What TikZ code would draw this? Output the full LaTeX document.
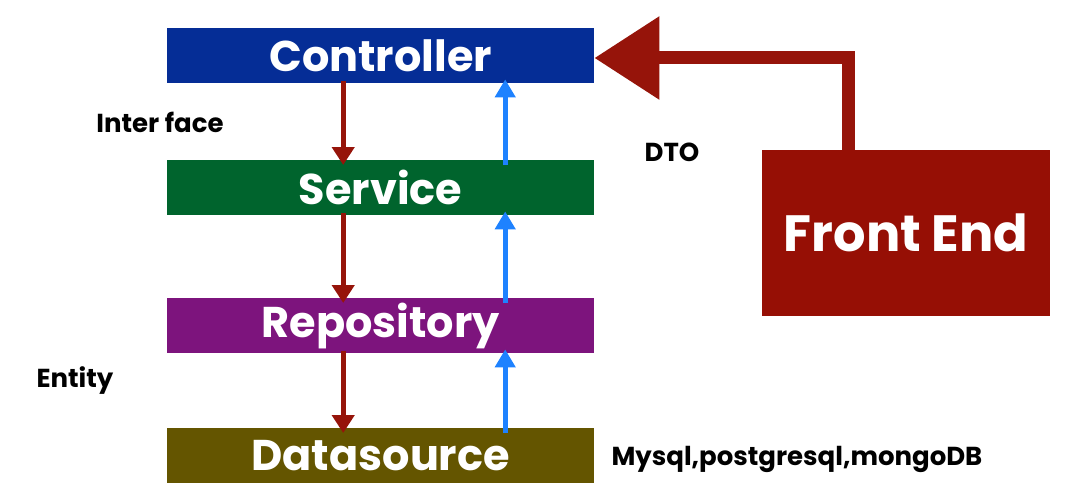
\documentclass[tikz,border=0pt]{standalone}
\usepackage{fontspec}
\setmainfont{Poppins}
\usetikzlibrary{arrows.meta}
\definecolor{cblue}{RGB}{5,45,150}
\definecolor{cgreen}{RGB}{0,100,45}
\definecolor{cpurple}{RGB}{125,20,125}
\definecolor{colive}{RGB}{100,85,0}
\definecolor{cred}{RGB}{150,15,5}
\definecolor{aarrow}{RGB}{150,20,10}
\definecolor{barrow}{RGB}{30,130,255}
\begin{document}
\begin{tikzpicture}[x=1pt,y=-1pt,
 layer/.style={minimum width=427pt,minimum height=55pt,inner sep=0pt,text=white,font=\fontsize{43}{46}\selectfont\bfseries},
 lbl/.style={font=\fontsize{26}{28}\selectfont\bfseries,text=black},
 down/.style={-{Triangle[length=18pt,width=22pt]},line width=5pt,aarrow},
 up/.style={-{Triangle[length=18pt,width=20pt]},line width=5pt,barrow}]
\useasboundingbox (0,0) rectangle (1077,503);
\node[layer,fill=cblue,anchor=north west] (c) at (167,28) {Controller};
\node[layer,fill=cgreen,anchor=north west] (s) at (167,160) {Service};
\node[layer,fill=cpurple,anchor=north west] (r) at (167,298) {Repository};
\node[layer,fill=colive,anchor=north west] (d) at (167,428) {Datasource};
\node[fill=cred,anchor=north west,minimum width=288pt,minimum height=166pt,inner sep=0pt,text=white,font=\fontsize{51}{54}\selectfont\bfseries] (f) at (762,150) {Front End};
\node[lbl] (l1) at (160,122) {Inter face};
\node[lbl] (l2) at (672,152) {DTO};
\node[lbl] (l3) at (75,381) {Entity};
\node[lbl,anchor=west] (l4) at (608,459) {Mysql,postgresql,mongoDB};
\coordinate (bend) at (848,58);
\draw[line width=13pt,aarrow,-{Triangle[length=65pt,width=80pt]}] (f.north -| bend) -- (bend) -- (c.east |- bend);
\foreach \a/\b in {c/s,s/r,r/d}{
 \draw[down] ([xshift=-37.5pt,yshift=2pt]\a.south) -- ([xshift=-37.5pt,yshift=-5pt]\b.north);
 \draw[up] ([xshift=124.5pt,yshift=-5pt]\b.north) -- ([xshift=124.5pt,yshift=4pt]\a.south);
}
\end{tikzpicture}
\end{document}
